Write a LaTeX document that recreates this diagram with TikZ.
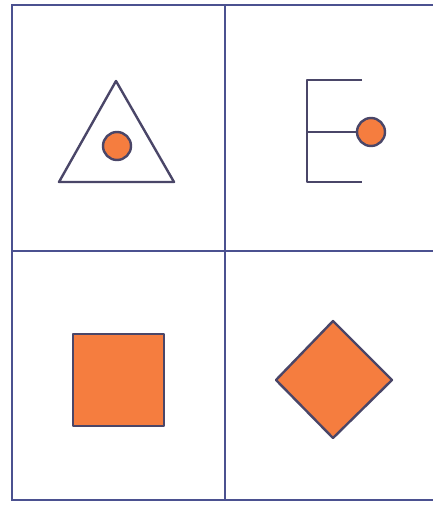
\documentclass[tikz,border=0pt]{standalone}
\begin{document}
\begin{tikzpicture}[x=1pt,y=-1pt,
  grid/.style={draw=gridblue,line width=2.2pt},
  outl/.style={draw=shapeline,line width=2.4pt,line join=round},
  fillo/.style={outl,fill=orangefill}]
\definecolor{gridblue}{HTML}{4B5190}
\definecolor{shapeline}{HTML}{4A4668}
\definecolor{orangefill}{HTML}{F57D3F}
\useasboundingbox (0,0) rectangle (432,506);
\fill[white] (0,0) rectangle (432,506);
% grid
\draw[grid] (440,5) -- (12,5) -- (12,500) -- (440,500);
\draw[grid] (225,5) -- (225,500);
\draw[grid] (12,251) -- (440,251);
% triangle with dot
\draw[outl] (116,81) -- (59,182) -- (174,182) -- cycle;
\draw[fillo] (117,146) circle (14);
% E shape
\draw[outl] (362,80) -- (307,80) -- (307,182) -- (362,182);
\draw[outl] (307,132) -- (357,132);
\draw[fillo] (371,132) circle (14);
% square
\draw[fillo] (73,334) rectangle (164,426);
% diamond
\draw[fillo] (333,321) -- (392,380) -- (333,438) -- (276,380) -- cycle;
\end{tikzpicture}
\end{document}
